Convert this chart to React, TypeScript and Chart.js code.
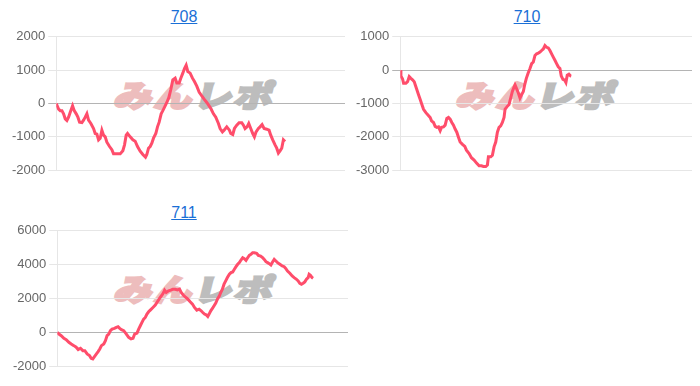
import React, { useEffect, useRef } from "react";
import { Chart, registerables } from "chart.js";

Chart.register(...registerables);

// ---- data (games, 差枚) ----
const games708 = [0,70,120,170,220,270,320,370,420,490,540,600,650,700,770,820,870,920,970,1040,1120,1170,1220,1270,1320,1370,1420,1470,1520,1600,1670,1720,1820,1920,2000,2050,2100,2140,2220,2300,2370,2440,2520,2600,2680,2720,2770,2820,2870,2920,2990,3040,3090,3150,3200,3270,3320,3380,3440,3500,3570,3620,3690,3740,3800,3850,3900,3950,4020,4090,4150,4220,4290,4370,4440,4520,4590,4650,4720,4790,4870,4920,4990,5040,5120,5200,5240,5300,5350,5420,5490,5570,5620,5670,5730,5780,5840,5900,5950,6000,6070,6120,6180,6240,6320,6390,6440,6500,6570,6620,6670,6720,6770,6820,6870];
const diff708 = [0,-170,-215,-215,-310,-460,-510,-410,-260,-70,-215,-310,-410,-560,-575,-500,-410,-310,-500,-600,-750,-900,-920,-1090,-1040,-800,-950,-1000,-1160,-1290,-1385,-1510,-1510,-1510,-1415,-1240,-950,-900,-1000,-1090,-1130,-1290,-1430,-1530,-1610,-1530,-1340,-1290,-1190,-1040,-900,-700,-560,-310,-215,-70,30,175,420,710,760,615,615,760,910,1050,1150,960,910,760,660,520,340,225,130,30,-70,-165,-310,-410,-600,-750,-850,-800,-700,-800,-900,-930,-750,-650,-575,-575,-650,-750,-700,-600,-750,-900,-1000,-850,-750,-700,-635,-750,-770,-800,-950,-1090,-1240,-1340,-1485,-1420,-1340,-1090,-1140];

const games710 = [0,20,70,100,170,220,270,320,370,420,450,500,550,600,650,700,770,840,900,940,1000,1050,1100,1150,1200,1240,1300,1350,1400,1450,1500,1550,1600,1650,1700,1750,1800,1870,1940,1990,2070,2140,2220,2300,2370,2440,2500,2570,2620,2650,2720,2770,2820,2870,2920,2970,3020,3070,3120,3150,3220,3270,3320,3370,3420,3450,3490,3550,3600,3650,3700,3740,3790,3840,3900,3950,4000,4050,4100,4150,4200,4250,4300,4350,4400,4450,4500,4550,4600,4650,4700,4750,4800,4840,4890,4940,4980,5020,5070,5120,5140];
const diff710 = [0,-175,-265,-390,-390,-345,-195,-245,-290,-345,-440,-590,-735,-880,-1030,-1175,-1275,-1350,-1420,-1520,-1570,-1685,-1715,-1700,-1815,-1715,-1700,-1650,-1450,-1420,-1470,-1570,-1650,-1765,-1860,-2010,-2155,-2225,-2285,-2400,-2500,-2625,-2695,-2795,-2870,-2870,-2890,-2890,-2845,-2600,-2600,-2550,-2300,-2155,-1860,-1715,-1670,-1570,-1420,-1175,-1080,-1030,-835,-640,-510,-440,-540,-685,-835,-735,-640,-440,-245,-100,50,195,245,440,490,510,540,590,635,735,685,665,590,490,390,295,195,100,50,-175,-275,-295,-370,-150,-120,-175,-180];

const games711 = [0,50,120,200,270,350,420,500,570,630,700,770,830,900,970,1020,1070,1120,1180,1230,1280,1330,1400,1450,1500,1550,1600,1650,1720,1780,1830,1880,1930,2000,2080,2150,2220,2280,2330,2400,2450,2500,2550,2600,2650,2700,2750,2800,2880,2950,3000,3050,3100,3150,3200,3230,3280,3350,3420,3480,3550,3620,3680,3730,3800,3870,3930,4000,4070,4130,4200,4270,4330,4380,4430,4480,4530,4570,4620,4670,4720,4770,4820,4880,4920,4970,5020,5070,5120,5180,5230,5280,5330,5380,5430,5480,5530,5580,5630,5680,5730,5780,5830,5880,5930,6000,6050,6120,6180,6230,6280,6330,6380,6430,6480,6530,6580,6630,6700,6770,6830,6880,6930,7000,7070,7130,7200,7250,7300,7350,7400,7450,7500,7550,7580,7620,7670,7700];
const diff711 = [0,-100,-195,-355,-430,-590,-685,-785,-880,-1020,-940,-1080,-1080,-1275,-1370,-1530,-1570,-1430,-1275,-1140,-980,-785,-685,-490,-195,-100,100,195,235,295,335,235,160,100,-100,-295,-390,-350,-100,-40,195,390,590,785,880,1080,1215,1315,1470,1610,1765,1920,2060,2195,2355,2490,2355,2450,2490,2550,2550,2510,2550,2355,2195,2060,1960,1805,1670,1470,1315,1370,1275,1175,1080,1040,940,1080,1275,1410,1570,1725,1960,2155,2355,2550,2845,3040,3235,3430,3530,3570,3725,3880,4020,4120,4275,4410,4350,4250,4410,4550,4610,4705,4705,4665,4550,4510,4410,4310,4175,4120,4060,3980,4155,4310,4215,4120,4020,3920,3880,3765,3625,3490,3330,3235,3135,3040,2900,2845,2900,2980,3135,3235,3430,3370,3235,3195];

const titles = ["708", "710", "711"];
const yTicks708 = [-2000, 2000, 1000];
const yTicks710 = [-3000, 1000, 1000];
const yTicks711 = [-2000, 6000, 2000];
const xMax = [8670, 8770, 8750];

const LINE = "#ff4d6b";
const FONT = "'Liberation Sans', Arial, Helvetica, sans-serif";

type Props = {
  games: number[];
  diff: number[];
  yr: number[];
  xmax: number;
  left: number;
  top: number;
  width: number;
  height: number;
  padL: number;
  padR: number;
};

function MiniChart(p: Props) {
  const ref = useRef<HTMLCanvasElement>(null);
  useEffect(() => {
    if (!ref.current) return;
    const chart = new Chart(ref.current, {
      type: "line",
      data: {
        datasets: [
          {
            data: p.games.map((g, i) => ({ x: g, y: p.diff[i] })),
            borderColor: LINE,
            borderWidth: 3,
            pointRadius: 0,
            tension: 0,
            fill: false,
          },
        ],
      },
      options: {
        animation: false,
        responsive: false,
        maintainAspectRatio: false,
        layout: { padding: { left: p.padL, right: p.padR, top: 0, bottom: 0 } },
        plugins: { legend: { display: false }, tooltip: { enabled: false }, title: { display: false } },
        scales: {
          x: { type: "linear", min: 0, max: p.xmax, display: false },
          y: {
            min: p.yr[0],
            max: p.yr[1],
            ticks: {
              stepSize: p.yr[2],
              color: "#666",
              font: { family: FONT, size: 13 },
              padding: 3,
              callback: (v: any) => String(v),
            },
            grid: {
              color: (c: any) => (c.tick && c.tick.value === 0 ? "#b4b4b4" : "#e6e6e6"),
              tickLength: 8,
              lineWidth: 1,
            },
            border: { color: "#e6e6e6" },
          },
        },
      },
    });
    return () => chart.destroy();
  }, []);
  return (
    <canvas
      ref={ref}
      width={p.width}
      height={p.height}
      style={{ position: "absolute", left: p.left, top: p.top, width: p.width, height: p.height, zIndex: 2 }}
    />
  );
}

function Title({ text, cx, cy }: { text: string; cx: number; cy: number }) {
  return (
    <a
      href="#"
      style={{
        position: "absolute",
        left: cx - 40,
        top: cy - 10,
        width: 80,
        textAlign: "center",
        fontFamily: FONT,
        fontSize: 16,
        lineHeight: "20px",
        color: "#1a6fd6",
        textDecoration: "underline",
      }}
    >
      {text}
    </a>
  );
}

function Watermark({ x, y }: { x: number; y: number }) {
  return (
    <div
      style={{
        position: "absolute",
        left: x,
        top: y,
        fontFamily: "'Noto Sans CJK JP', sans-serif",
        fontWeight: 900,
        fontSize: 38,
        lineHeight: "38px",
        whiteSpace: "nowrap",
        transform: "skewX(-14deg) scaleY(0.8)",
        transformOrigin: "left top",
        letterSpacing: 2,
        zIndex: 1,
      }}
    >
      <span style={{ color: "#edbdbd", WebkitTextStroke: "3px #edbdbd" } as any}>みん</span>
      <span style={{ color: "#bdbdbd", WebkitTextStroke: "3px #bdbdbd" } as any}>レポ</span>
    </div>
  );
}

export default function App() {
  return (
    <div style={{ position: "fixed", left: 0, top: 0, width: 700, height: 386, background: "#fff", overflow: "hidden" }}>
      <Title text={titles[0]} cx={184} cy={17} />
      <Title text={titles[1]} cx={527} cy={17} />
      <Title text={titles[2]} cx={184} cy={213} />
      <Watermark x={120} y={79} />
      <Watermark x={462} y={79} />
      <Watermark x={120} y={273} />
      <MiniChart games={games708} diff={diff708} yr={yTicks708} xmax={xMax[0]} left={0} top={26} width={350} height={155} padL={9} padR={5} />
      <MiniChart games={games710} diff={diff710} yr={yTicks710} xmax={xMax[1]} left={350} top={26} width={350} height={155} padL={3} padR={8} />
      <MiniChart games={games711} diff={diff711} yr={yTicks711} xmax={xMax[2]} left={0} top={220} width={360} height={157} padL={10} padR={12} />
    </div>
  );
}
